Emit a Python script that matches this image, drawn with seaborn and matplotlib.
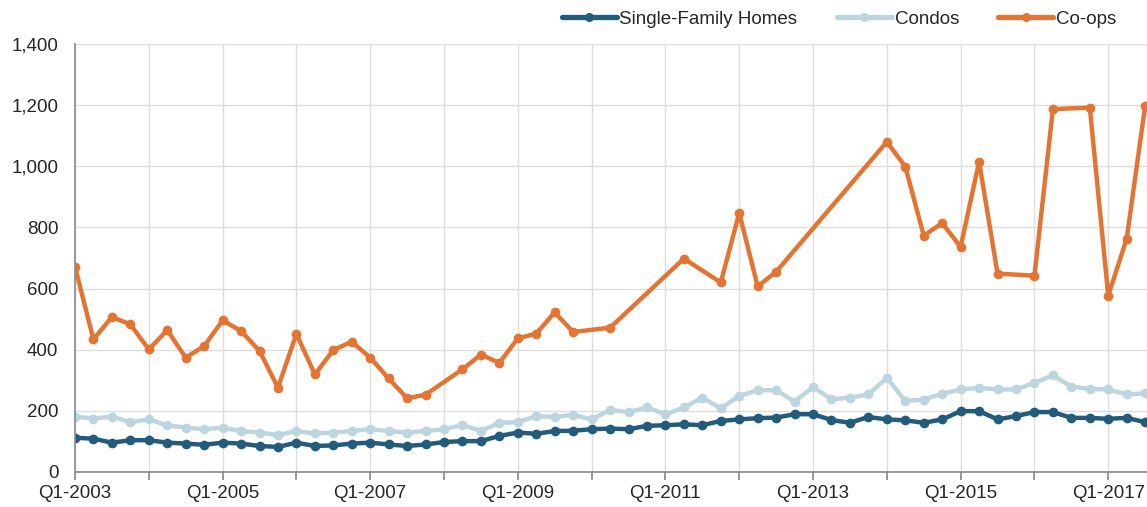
import seaborn as sns
import matplotlib.pyplot as plt
import matplotlib.ticker as ticker
import numpy as np
import pandas as pd

sns.set(style="whitegrid")
plt.rcParams['font.family'] = ['Liberation Sans', 'DejaVu Sans']

#---------------------------------------------
#            DATOS (trimestrales, Q1-2003 a Q3-2017)
#---------------------------------------------
anios = list(range(2003, 2018))
trimestres = [f"Q{q}-{a}" for a in anios for q in range(1, 5)][:59]

single_family = [112, 109, 96, 104,  104, 96, 93, 89,  96, 93, 85, 82,
                 96, 85, 87, 93,  96, 90, 85, 90,  98, 101, 101, 118,
                 129, 125, 134, 135,  140, 142, 140, 151,  153, 156, 153, 167,
                 172, 176, 178, 189,  189, 170, 161, 180,  172, 169, 161, 172,
                 199, 199, 172, 183,  196, 196, 177, 177,  174, 177, 163]

condos = [181, 175, 181, 163,  172, 153, 145, 140,  145, 134, 129, 121,
          134, 126, 129, 134,  140, 134, 129, 134,  140, 154, 134, 161,
          163, 183, 180, 187,  172, 203, 196, 211,  189, 211, 243, 208,
          249, 267, 268, 230,  278, 238, 243, 254,  308, 232, 237, 256,
          270, 275, 270, 270,  292, 316, 279, 272,  270, 254, 257]

nan = np.nan
coops = [671, 434, 507, 483,  401, 464, 374, 412,  496, 461, 396, 276,
         452, 319, 399, 426,  374, 306, 241, 253,  nan, 336, 384, 357,
         437, 453, 522, 458,  nan, 472, nan, nan,  nan, 698, nan, 620,
         847, 607, 655, nan,  nan, nan, nan, nan,  1080, 999, 773, 814,
         736, 1015, 649, nan,  642, 1187, nan, 1192,  577, 763, 1198]

series = ["Single-Family Homes", "Condos", "Co-ops"]
colores = ["#235b7c", "#bdd5de", "#e27434"]

#Base en formato largo
idx = np.arange(len(trimestres))
datos = pd.concat([
    pd.DataFrame({"idx": idx, "Trimestre": trimestres, "valor": vals, "tipo": nombre})
    for nombre, vals in zip(series, [single_family, condos, coops])
]).dropna()

#---------------------------------------------
#            GRÁFICA
#---------------------------------------------
fig = plt.figure(figsize=(11.47, 5.07), dpi=100)
ax = fig.add_axes([75/1147, 1 - 472/507, 1 - 75/1147, (472 - 44)/507])

sns.lineplot(data=datos, x="idx", y="valor", hue="tipo", hue_order=series,
             palette=colores, marker="o", markersize=7, markeredgewidth=0,
             linewidth=3.2, ax=ax, legend=False)

ax.set_ylim(0, 1400)
ax.set_xlim(0, 58.1)
ax.yaxis.set_major_locator(ticker.MultipleLocator(200))
ax.yaxis.set_major_formatter(ticker.StrMethodFormatter('{x:,.0f}'))
ax.set_xticks(idx[::4])
ax.set_xticklabels([t if i % 8 == 0 else "" for i, t in zip(idx[::4], trimestres[::4])])
ax.set_xlabel("")
ax.set_ylabel("")

ax.grid(True, color="#dedede", linewidth=1)
for s in ["top", "right"]:
    ax.spines[s].set_visible(False)
for s in ["left", "bottom"]:
    ax.spines[s].set_color("#8a8a8a")
    ax.spines[s].set_linewidth(1.2)
ax.tick_params(axis="x", bottom=True, length=6, color="#8a8a8a", labelsize=13.5, pad=3)
ax.tick_params(axis="y", left=False, length=0, labelsize=13.5, pad=12)

#Leyenda arriba a la derecha
handles = [plt.Line2D([], [], color=c, linewidth=3.8, marker="o", markersize=6.5,
                      markeredgewidth=0) for c in colores]
fig.legend(handles, series, loc="center right", bbox_to_anchor=(0.988, 0.962),
           ncol=3, frameon=False, fontsize=13.5, handlelength=2.93,
           handletextpad=0.15, columnspacing=2.1, numpoints=1)

plt.savefig("out.png", dpi=100)
